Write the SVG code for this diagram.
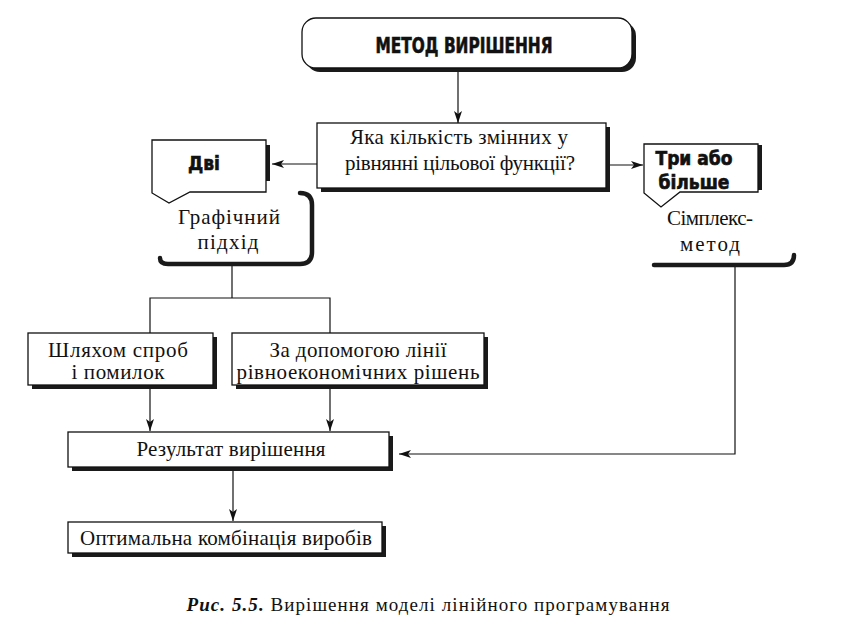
<svg xmlns="http://www.w3.org/2000/svg" width="849" height="638" viewBox="0 0 849 638">
<defs>
<style>
.box{fill:#fff;stroke:#111;stroke-width:1.3}
.sh{fill:#1a1a1a}
.ln{fill:none;stroke:#111;stroke-width:1.2}
.card{fill:none;stroke:#1a1a1a;stroke-width:4.5;stroke-linecap:round}
.t{font-family:"Liberation Serif","DejaVu Serif",serif;font-size:21px;fill:#111;text-anchor:middle}
.b{font-family:"DejaVu Sans Condensed","DejaVu Sans",sans-serif;font-weight:bold;fill:#111;stroke:#111;stroke-width:0.6;text-anchor:middle}
</style>
<marker id="ar" viewBox="0 0 12 8" refX="12" refY="4" markerWidth="12" markerHeight="8" markerUnits="userSpaceOnUse" orient="auto">
<path d="M0,0 L12,4 L0,8 L3,4 Z" fill="#111"/>
</marker>
</defs>
<rect width="849" height="638" fill="#fff"/>

<g id="connectors">
<line class="ln" x1="458" y1="70" x2="458" y2="123" marker-end="url(#ar)"/>
<line class="ln" x1="317" y1="164" x2="272" y2="164" marker-end="url(#ar)"/>
<line class="ln" x1="610" y1="165" x2="643" y2="165" marker-end="url(#ar)"/>
<polyline class="ln" points="232,266 232,298"/>
<polyline class="ln" points="150,333 150,298 330,298 330,333"/>
<line class="ln" x1="150" y1="389" x2="150" y2="431" marker-end="url(#ar)"/>
<line class="ln" x1="330" y1="389" x2="330" y2="431" marker-end="url(#ar)"/>
<line class="ln" x1="233" y1="471" x2="233" y2="521" marker-end="url(#ar)"/>
<polyline class="ln" points="735,267 735,454 399,454" marker-end="url(#ar)"/>
</g>

<g id="method">
<rect class="sh" x="306" y="22" width="330" height="50" rx="14"/>
<rect class="box" x="302" y="18" width="330" height="50" rx="14"/>
<text class="b" x="464" y="53" font-size="22" textLength="177" lengthAdjust="spacingAndGlyphs">МЕТОД ВИРІШЕННЯ</text>
</g>

<g id="question">
<rect class="sh" x="321" y="127" width="289" height="65"/>
<rect class="box" x="317" y="123" width="289" height="65"/>
<text class="t" x="459" y="144" textLength="218">Яка кількість змінних у</text>
<text class="t" x="460" y="170" textLength="230">рівнянні цільової функції?</text>
</g>

<g id="graphic">
<path class="card" d="M300,193 Q312,193 312,205 L312,252 Q312,264 300,264 L168,264 Q160,264 160,258"/>
<text class="t" x="229" y="224" textLength="102">Графічний</text>
<text class="t" x="228" y="249" textLength="61">підхід</text>
</g>

<g id="two">
<rect class="sh" x="262" y="145" width="8" height="36"/>
<path class="box" d="M152,140 L266,140 L266,192 L190,192 L169,203 L152,193 Z"/>
<text class="b" x="204" y="170" font-size="19">Дві</text>
</g>

<g id="simplex">
<path class="card" d="M654,265 L784,265 Q794,265 794,255"/>
<text class="t" x="710" y="225" textLength="86">Сімплекс-</text>
<text class="t" x="710" y="251" textLength="60">метод</text>
</g>

<g id="three">
<rect class="sh" x="755" y="145" width="7" height="45"/>
<path class="box" d="M644,144 L758,144 L758,192 L680,192 L661,207 L644,193 Z"/>
<text class="b" x="694" y="165" font-size="19">Три або</text>
<text class="b" x="694" y="189" font-size="19">більше</text>
</g>

<g id="trial">
<rect class="sh" x="32" y="337" width="185" height="52"/>
<rect class="box" x="28" y="333" width="185" height="52"/>
<text class="t" x="118" y="357" textLength="140">Шляхом спроб</text>
<text class="t" x="118" y="379" textLength="93">і помилок</text>
</g>

<g id="isoline">
<rect class="sh" x="236" y="337" width="252" height="52"/>
<rect class="box" x="232" y="333" width="252" height="52"/>
<text class="t" x="358" y="357" textLength="177">За допомогою лінії</text>
<text class="t" x="358" y="379" textLength="243">рівноекономічних рішень</text>
</g>

<g id="result">
<rect class="sh" x="72" y="436" width="321" height="35"/>
<rect class="box" x="68" y="432" width="321" height="35"/>
<text class="t" x="231" y="456" textLength="189">Результат вирішення</text>
</g>

<g id="optimal">
<rect class="sh" x="72" y="526" width="314" height="31"/>
<rect class="box" x="68" y="522" width="314" height="31"/>
<text class="t" x="226" y="545" textLength="292">Оптимальна комбінація виробів</text>
</g>

<text x="428" y="611" font-family="Liberation Serif, DejaVu Serif, serif" font-size="19" fill="#111" text-anchor="middle" textLength="483"><tspan font-weight="bold" font-style="italic">Рис. 5.5.</tspan> Вирішення моделі лінійного програмування</text>
</svg>
